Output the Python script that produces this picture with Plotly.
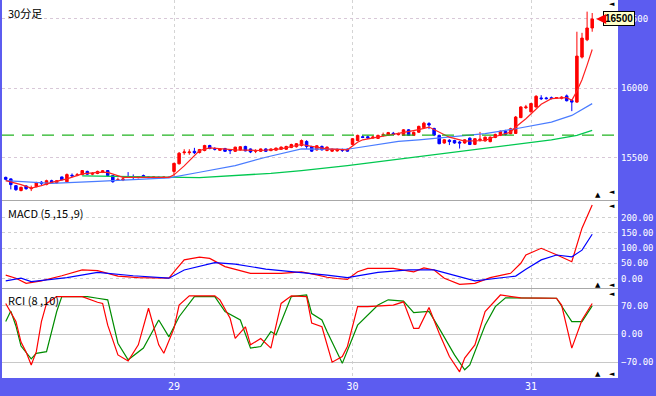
import plotly.graph_objects as go

# ---------------- data ----------------
day_labels = ["29", "30", "31"]
day_start = [33, 68, 103]

open_ = [15357, 15346, 15297, 15262, 15295, 15275, 15290, 15322, 15305, 15333,
         15318, 15360, 15325, 15372, 15372, 15377, 15400, 15380, 15385, 15392,
         15406, 15370, 15335, 15338, 15360, 15362, 15355, 15370, 15360, 15355,
         15358, 15355, 15358, 15400, 15455, 15535, 15535, 15545, 15536, 15551,
         15587, 15565, 15552, 15565, 15555, 15545, 15555, 15580, 15562, 15545,
         15545, 15562, 15550, 15553, 15560, 15560, 15572, 15578, 15587, 15616,
         15580, 15555, 15580, 15551, 15546, 15548, 15558, 15560, 15595, 15623,
         15650, 15650, 15642, 15638, 15660, 15662, 15675, 15665, 15660, 15700,
         15660, 15683, 15715, 15745, 15710, 15660, 15605, 15625, 15623, 15612,
         15605, 15640, 15595, 15625, 15620, 15615, 15645, 15660, 15690, 15672,
         15674, 15788, 15860, 15830, 15865, 15930, 15930, 15932, 15930, 15928,
         15945, 15912, 15900, 16225, 16350, 16435]
high = [15362, 15350, 15300, 15290, 15300, 15297, 15325, 15330, 15340, 15340,
        15338, 15362, 15385, 15385, 15388, 15410, 15405, 15395, 15405, 15410,
        15410, 15372, 15355, 15355, 15395, 15378, 15365, 15377, 15362, 15363,
        15362, 15362, 15362, 15462, 15540, 15560, 15560, 15570, 15562, 15592,
        15592, 15575, 15568, 15570, 15560, 15578, 15582, 15585, 15565, 15560,
        15565, 15567, 15565, 15572, 15580, 15585, 15600, 15605, 15630, 15625,
        15585, 15590, 15587, 15580, 15565, 15565, 15565, 15565, 15640, 15665,
        15660, 15660, 15660, 15665, 15680, 15685, 15685, 15680, 15705, 15705,
        15688, 15730, 15758, 15755, 15715, 15665, 15632, 15632, 15628, 15620,
        15632, 15645, 15640, 15685, 15652, 15652, 15672, 15695, 15700, 15715,
        15800, 15870, 15880, 15895, 15950, 15950, 15938, 15940, 15935, 15942,
        15955, 15920, 16408, 16400, 16553, 16543]
low = [15338, 15270, 15260, 15256, 15268, 15258, 15285, 15300, 15300, 15312,
       15312, 15335, 15320, 15358, 15365, 15372, 15375, 15372, 15380, 15388,
       15365, 15318, 15333, 15330, 15355, 15345, 15350, 15355, 15352, 15352,
       15350, 15352, 15352, 15370, 15450, 15520, 15520, 15525, 15530, 15545,
       15560, 15551, 15548, 15540, 15525, 15540, 15550, 15545, 15532, 15532,
       15540, 15540, 15546, 15550, 15555, 15556, 15568, 15572, 15580, 15562,
       15540, 15550, 15550, 15545, 15540, 15542, 15540, 15542, 15590, 15618,
       15640, 15635, 15635, 15635, 15652, 15658, 15660, 15660, 15656, 15656,
       15656, 15678, 15710, 15705, 15655, 15596, 15600, 15590, 15600, 15565,
       15600, 15590, 15590, 15615, 15615, 15610, 15640, 15655, 15660, 15668,
       15670, 15785, 15850, 15825, 15860, 15915, 15920, 15920, 15925, 15920,
       15905, 15835, 15895, 16215, 16340, 16408]
close = [15343, 15305, 15268, 15285, 15275, 15280, 15320, 15315, 15333, 15320,
         15333, 15340, 15377, 15368, 15375, 15406, 15380, 15385, 15400, 15405,
         15370, 15326, 15340, 15345, 15357, 15358, 15362, 15360, 15355, 15360,
         15355, 15359, 15356, 15458, 15531, 15540, 15540, 15535, 15558, 15587,
         15565, 15560, 15562, 15545, 15550, 15575, 15578, 15548, 15540, 15550,
         15562, 15545, 15562, 15568, 15575, 15580, 15594, 15600, 15623, 15580,
         15546, 15585, 15556, 15575, 15560, 15560, 15552, 15546, 15636, 15660,
         15645, 15642, 15648, 15660, 15665, 15680, 15668, 15672, 15700, 15660,
         15682, 15725, 15748, 15735, 15662, 15600, 15628, 15615, 15605, 15605,
         15628, 15594, 15636, 15632, 15647, 15647, 15667, 15690, 15667, 15708,
         15792, 15865, 15865, 15890, 15942, 15925, 15925, 15926, 15932, 15935,
         15910, 15900, 16232, 16362, 16435, 16500]

ma_short_idx = [0, 3, 5, 7, 9, 12, 15, 18, 20, 21, 23, 32, 33, 35, 38, 40, 45, 50,
                54, 57, 58, 60, 63, 67, 69, 70, 73, 77, 81, 83, 85, 87, 90, 94, 96,
                99, 100, 102, 105, 107, 110, 111, 112, 113, 114, 115]
ma_short_val = [15333, 15305, 15280, 15297, 15321, 15346, 15382, 15393, 15393, 15380,
                15357, 15357, 15375, 15440, 15551, 15570, 15556, 15551, 15563, 15587,
                15594, 15580, 15563, 15556, 15610, 15628, 15647, 15672, 15701, 15720,
                15683, 15647, 15618, 15623, 15652, 15683, 15720, 15780, 15884, 15925,
                15933, 15913, 15980, 16062, 16167, 16280]
ma_mid_idx = [0, 3, 9, 18, 26, 32, 38, 45, 51, 58, 67, 77, 81, 94, 100, 107, 111, 114, 115]
ma_mid_val = [15333, 15326, 15314, 15328, 15341, 15353, 15394, 15442, 15502, 15563,
              15560, 15616, 15628, 15672, 15708, 15756, 15804, 15865, 15889]
ma_long_idx = [15, 25, 33, 38, 52, 58, 67, 81, 94, 107, 112, 115]
ma_long_val = [15368, 15362, 15357, 15355, 15386, 15406, 15442, 15507, 15563, 15628,
               15660, 15696]
ref_level = 15662

macd_idx = [0, 2, 4, 7, 11, 15, 18, 22, 26, 32, 33, 35, 38, 40, 43, 48, 54, 58, 61,
            63, 65, 67, 69, 71, 76, 80, 82, 84, 86, 89, 92, 95, 99, 101, 102, 105,
            108, 111, 113, 115]
macd_val = [11, 1, -16, -8, 9, 28, 26, 8, 3, 1, 22, 61, 70, 66, 39, 17, 17, 22, 12,
            4, 0, -3, 22, 33, 33, 22, 35, 28, 1, -19, -16, 3, 17, 50, 77, 99,
            78, 55, 165, 241]
signal_idx = [0, 3, 5, 12, 18, 25, 32, 35, 41, 45, 51, 58, 63, 67, 73, 79, 84, 92,
              100, 102, 105, 108, 111, 113, 115]
signal_val = [-8, 1, -10, 3, 20, 9, 1, 28, 52, 47, 31, 20, 11, 3, 20, 28, 28, -8,
              8, 30, 61, 77, 71, 93, 145]

rci8_idx = [0, 2, 3, 4, 5, 6, 7, 8, 10, 15, 18, 19, 20, 22, 24, 26, 28, 30, 31, 33,
            34, 36, 41, 42, 44, 45, 47, 48, 50, 52, 54, 56, 59, 60, 62, 63, 64, 66,
            67, 69, 71, 76, 78, 80, 81, 83, 85, 87, 89, 90, 92, 94, 97, 101, 108,
            109, 111, 113, 115]
rci8_val = [76, 31, -20, -45, -77, -44, 31, 76, 93, 93, 79, 76, 22, -52, -67, -27,
            64, -27, -48, 14, 72, 95, 95, 85, 39, -11, 18, -27, -11, -35, 76, 95,
            93, 27, 18, -27, -70, -56, -31, 68, 68, 72, 80, 14, 14, 66, 2, -56,
            -94, -60, -27, 56, 97, 90, 89, 72, -35, 35, 76]
rci10_idx = [0, 1, 2, 3, 5, 6, 8, 10, 11, 16, 18, 20, 22, 24, 27, 30, 32, 34, 37,
             41, 43, 46, 48, 50, 52, 53, 56, 59, 60, 62, 63, 64, 66, 69, 71, 73,
             75, 78, 80, 83, 85, 88, 90, 91, 94, 96, 98, 103, 108, 111, 113, 115]
rci10_val = [31, 57, 20, -30, -62, -48, -44, 56, 93, 93, 89, 85, -23, -64, -35, 35,
             -7, 43, 93, 93, 56, 35, -35, -31, 6, -2, 93, 97, 51, 35, 6, -19, -73,
             22, 47, 72, 85, 82, 53, 56, 14, -52, -89, -77, 22, 68, 90, 90, 89, 31,
             31, 70]

main_ticks = [15500, 16000, 16500]
macd_ticks = [0, 50, 100, 150, 200]
rci_ticks = [-70, 0, 70]

# ---------------- layout geometry ----------------
W, H = 656, 396
BLUE = "#5c5cf0"
x_dom = [2 / W, 618 / W]
main_dom = [1 - 200.5 / H, 1.0]
macd_dom = [1 - 288.5 / H, 1 - 200.5 / H]
rci_dom = [1 - 378 / H, 1 - 288.5 / H]

idx = list(range(len(close)))

fig = go.Figure()

fig.add_trace(go.Candlestick(
    x=idx, open=open_, high=high, low=low, close=close,
    xaxis="x", yaxis="y",
    increasing=dict(line=dict(color="#ff0000", width=1), fillcolor="#ff0000"),
    decreasing=dict(line=dict(color="#0000ff", width=1), fillcolor="#0000ff"),
    whiskerwidth=0, showlegend=False, hoverinfo="skip"))

fig.add_trace(go.Scatter(x=ma_long_idx, y=ma_long_val, mode="lines", xaxis="x", yaxis="y",
                         line=dict(color="#00c850", width=1.3), showlegend=False, hoverinfo="skip"))
fig.add_trace(go.Scatter(x=ma_mid_idx, y=ma_mid_val, mode="lines", xaxis="x", yaxis="y",
                         line=dict(color="#4a7cff", width=1.2), showlegend=False, hoverinfo="skip"))
fig.add_trace(go.Scatter(x=ma_short_idx, y=ma_short_val, mode="lines", xaxis="x", yaxis="y",
                         line=dict(color="#ff2020", width=1.2), showlegend=False, hoverinfo="skip"))

fig.add_trace(go.Scatter(x=macd_idx, y=macd_val, mode="lines", xaxis="x2", yaxis="y2",
                         line=dict(color="#ff0000", width=1.2), showlegend=False, hoverinfo="skip"))
fig.add_trace(go.Scatter(x=signal_idx, y=signal_val, mode="lines", xaxis="x2", yaxis="y2",
                         line=dict(color="#0000ff", width=1.2), showlegend=False, hoverinfo="skip"))

fig.add_trace(go.Scatter(x=rci10_idx, y=rci10_val, mode="lines", xaxis="x3", yaxis="y3",
                         line=dict(color="#008c00", width=1.2), showlegend=False, hoverinfo="skip"))
fig.add_trace(go.Scatter(x=rci8_idx, y=rci8_val, mode="lines", xaxis="x3", yaxis="y3",
                         line=dict(color="#ff0000", width=1.2), showlegend=False, hoverinfo="skip"))

tickfont = dict(family="DejaVu Sans Mono", size=9, color="#ffffff")
xr = [-0.73, 120.06]
common_x = dict(domain=x_dom, range=xr, tickvals=day_start, ticktext=day_labels,
                showgrid=True, gridcolor="#d4d4d4", griddash="dot", gridwidth=1,
                zeroline=False, showline=False, fixedrange=True)

fig.update_layout(
    width=W, height=H,
    margin=dict(l=0, r=0, t=0, b=0, pad=0),
    paper_bgcolor=BLUE, plot_bgcolor="#ffffff",
    hovermode=False, showlegend=False,
    xaxis=dict(**common_x, anchor="y", showticklabels=False, rangeslider=dict(visible=False)),
    xaxis2=dict(**common_x, anchor="y2", showticklabels=False, matches="x"),
    xaxis3=dict(**common_x, anchor="y3", showticklabels=True, matches="x",
                tickfont=dict(family="DejaVu Sans Mono", size=10, color="#ffffff"),
                ticks="", ticklabelstandoff=1),
    yaxis=dict(domain=main_dom, range=[15190, 16637], side="right", anchor="x",
               tickvals=main_ticks, tickformat="d", tickfont=tickfont, showgrid=True,
               gridcolor="#d8c8d8", griddash="dot", zeroline=False, fixedrange=True,
               ticks="", ticklabelstandoff=2),
    yaxis2=dict(domain=macd_dom, range=[-32.8, 255.8], side="right", anchor="x2",
                tickvals=macd_ticks, tickformat=".2f", tickfont=tickfont, showgrid=True,
                gridcolor="#d0d0d0", griddash="dot", zeroline=False, fixedrange=True,
                ticks="", ticklabelstandoff=2),
    yaxis3=dict(domain=rci_dom, range=[-109.4, 113.2], side="right", anchor="x3",
                tickvals=rci_ticks, tickformat=".2f", tickfont=tickfont, showgrid=True,
                gridcolor="#c8c8c8", zeroline=False, fixedrange=True,
                ticks="", ticklabelstandoff=2),
)

# reference level (dashed green)
fig.add_shape(type="line", xref="x domain", yref="y", x0=0, x1=1, y0=ref_level, y1=ref_level,
              line=dict(color="#22b422", width=1.4, dash="12px,8px"), layer="above")

# panel separators
for yy in (200.5, 288.5):
    fig.add_shape(type="line", xref="paper", yref="paper", x0=x_dom[0], x1=x_dom[1],
                  y0=1 - yy / H, y1=1 - yy / H, line=dict(color="#a8a8a8", width=1))

# panel titles
titles = [("30分足", 3), ("MACD (5 ,15 ,9)", 203), ("RCI (8 ,10)", 290)]
for txt, ty in titles:
    fig.add_annotation(text=txt, xref="paper", yref="paper", x=6 / W, y=1 - ty / H,
                       xanchor="left", yanchor="top", showarrow=False,
                       font=dict(family="Noto Sans CJK JP, Liberation Sans", size=11, color="#000000"))

# last price label
fig.add_annotation(text="<b>%d</b>" % close[-1], xref="x", yref="y", x=idx[-1], y=close[-1],
                   ax=27, ay=0, axref="pixel", ayref="pixel", showarrow=True,
                   arrowhead=2, arrowsize=1, arrowwidth=2, arrowcolor="#ff0000", standoff=4,
                   bgcolor="#ffffc8", bordercolor="#000000", borderwidth=1, borderpad=1,
                   font=dict(family="Liberation Sans", size=10, color="#000000"))

# small scroll markers at the panel corners
markers = [("◄", 612, 4), ("▲", 598, 195), ("◄", 612, 192), ("◄", 612, 206),
           ("▲", 598, 285), ("◄", 612, 285), ("◄", 612, 294), ("▲", 598, 374), ("◄", 612, 374)]
for sym, mx, my in markers:
    fig.add_annotation(text=sym, xref="paper", yref="paper", x=mx / W, y=1 - my / H,
                       xanchor="center", yanchor="middle", showarrow=False,
                       font=dict(family="DejaVu Sans", size=7, color="#000000"))

fig.write_html("out.html", config={"displayModeBar": False, "staticPlot": True},
               post_script="document.body.style.margin='0';document.body.style.overflow='hidden';")
